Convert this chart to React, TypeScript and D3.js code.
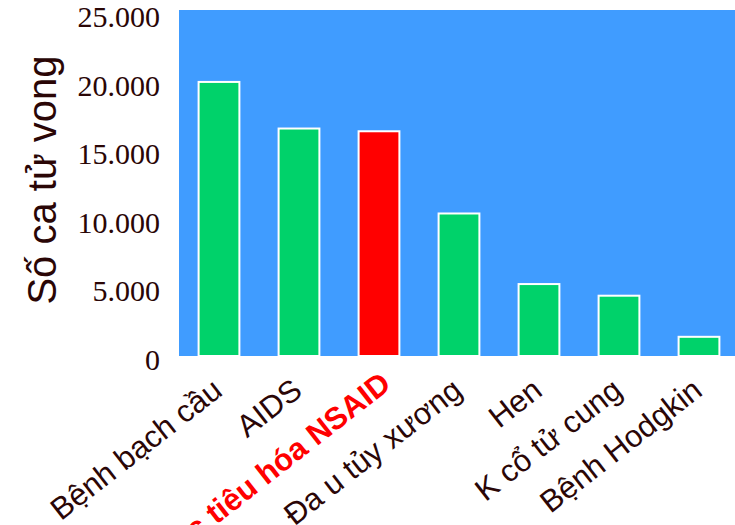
import React from "react";
import * as d3 from "d3";

// Annual deaths by cause (United States)
const categories = [
  "Bệnh bạch cầu",
  "AIDS",
  "Ngộ độc tiêu hóa NSAID",
  "Đa u tủy xương",
  "Hen",
  "K cổ tử cung",
  "Bệnh Hodgkin",
];
const deaths = [20000, 16600, 16400, 10400, 5250, 4400, 1400];
const highlighted = [false, false, true, false, false, false, false];
const yTicks = [0, 5000, 10000, 15000, 20000, 25000];
const yTitle = "Số ca tử vong";

const W = 735;
const H = 525;
const plot = { left: 179, right: 739, top: 10, bottom: 356 };

const textColor = "#2a0606";
const bgColor = "#409cff";
const barColor = "#00d26a";
const hiColor = "#ff0000";

const fmt = (v: number) => d3.format(",")(v).replace(/,/g, ".");

export default function App() {
  const x = d3
    .scaleBand<string>()
    .domain(categories)
    .range([plot.left, plot.right])
    .paddingInner(0.49)
    .paddingOuter(0.245);
  const y = d3.scaleLinear().domain([0, 25250]).range([plot.bottom, plot.top]);

  return (
    <svg
      width={W}
      height={H}
      style={{ position: "absolute", left: 0, top: 0, display: "block" }}
    >
      <rect x={0} y={0} width={W} height={H} fill="#ffffff" />
      <rect
        x={plot.left}
        y={plot.top}
        width={plot.right - plot.left}
        height={plot.bottom - plot.top}
        fill={bgColor}
      />
      {categories.map((c, i) => (
        <rect
          key={c}
          x={x(c)}
          y={y(deaths[i])}
          width={x.bandwidth()}
          height={y(0) - y(deaths[i])}
          fill={highlighted[i] ? hiColor : barColor}
          stroke="#ffffff"
          strokeWidth={2}
        />
      ))}
      {yTicks.map((t) => (
        <text
          key={t}
          x={160}
          y={y(t) + 14}
          textAnchor="end"
          fontFamily="'Liberation Serif', 'Times New Roman', serif"
          fontSize={30}
          fill={textColor}
        >
          {fmt(t)}
        </text>
      ))}
      <text
        transform={`translate(56, 180) rotate(-90)`}
        textAnchor="middle"
        fontFamily="'Liberation Sans', Arial, sans-serif"
        fontSize={40}
        fill={textColor}
      >
        {yTitle}
      </text>
      {categories.map((c, i) => {
        const cx = (x(c) as number) + x.bandwidth() / 2;
        return (
          <text
            key={c}
            transform={`translate(${cx + 5}, 394) rotate(-38)`}
            dx={highlighted[i] ? 11 : 0}
            textAnchor="end"
            fontFamily="'Liberation Sans', Arial, sans-serif"
            fontSize={31}
            fontWeight={highlighted[i] ? "bold" : "normal"}
            fill={highlighted[i] ? hiColor : textColor}
          >
            {c}
          </text>
        );
      })}
    </svg>
  );
}
